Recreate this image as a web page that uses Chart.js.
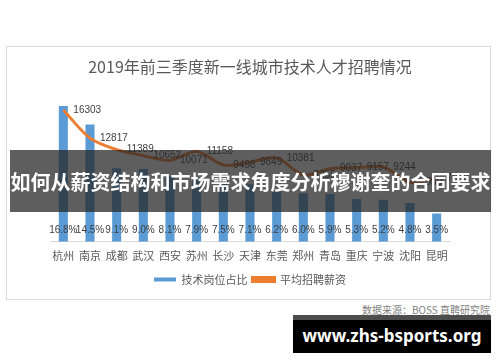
<!DOCTYPE html>
<html>
<head>
<meta charset="utf-8">
<script src="https://cdn.jsdelivr.net/npm/chart.js@4"></script>
<style>
  body { margin: 0; background: #fff; width: 500px; height: 362px; position: relative; overflow: hidden; }
  #frame { position: absolute; left: 6px; top: 46px; width: 485px; height: 254px; box-sizing: border-box; border: 1px solid #d9d9d9; }
  #wrap { position: absolute; left: 0; top: 0; width: 483px; height: 252px; }
  #banner { position: absolute; left: 10px; top: 150px; width: 481px; height: 62px; background: rgba(38,38,38,0.74);
    color: #fff; font: bold 20px "Noto Sans CJK SC", sans-serif; text-align: center; line-height: 64px; white-space: nowrap; }
  #source { position: absolute; right: 10px; top: 302px; font: 10px "Noto Sans CJK SC", sans-serif; color: #7f7f7f; }
  #mark { position: absolute; left: 293px; top: 315px; width: 198px; height: 38px; box-sizing: border-box; background: #000;
    border-top: 5px solid #4d4d4d; color: #fff; font: bold 17px "Noto Sans", sans-serif; text-align: center; line-height: 32px; }
</style>
</head>
<body>
<div id="frame"><div id="wrap"><canvas id="chart"></canvas></div></div>
<div id="banner">如何从薪资结构和市场需求角度分析穆谢奎的合同要求</div>
<div id="source">数据来源：BOSS 直聘研究院</div>
<div id="mark">www.zhs-bsports.org</div>
<script>
const cities = ["杭州", "南京", "成都", "武汉", "西安", "苏州", "长沙", "天津", "东莞", "郑州", "青岛", "重庆", "宁波", "沈阳", "昆明"];
const techShare = [16.8, 14.5, 9.1, 9.0, 8.1, 7.9, 7.5, 7.1, 6.2, 6.0, 5.9, 5.3, 5.2, 4.8, 3.5];
const avgSalary = [16303, 12817, 11389, 10652, 10071, 11158, 9498, 9849, 10381, 8255, 9037, 9157, 9244, 7350, 7859];

const valueLabels = {
  id: "valueLabels",
  afterDatasetsDraw(chart) {
    const ctx = chart.ctx;
    ctx.save();
    ctx.font = '10px "Liberation Sans", sans-serif';
    ctx.fillStyle = "#404040";
    ctx.textBaseline = "middle";
    ctx.textAlign = "center";
    chart.getDatasetMeta(0).data.forEach(function (bar, i) {
      ctx.fillText(techShare[i].toFixed(1) + "%", bar.x, bar.base - 12);
    });
    ctx.textAlign = "left";
    chart.getDatasetMeta(1).data.forEach(function (pt, i) {
      ctx.fillText(String(avgSalary[i]), pt.x + 10, pt.y);
    });
    ctx.restore();
  }
};

new Chart(document.getElementById("chart"), {
  data: {
    labels: cities,
    datasets: [
      {
        type: "bar",
        label: "技术岗位占比",
        data: techShare,
        backgroundColor: "#5b9bd5",
        borderWidth: 0,
        barPercentage: 0.68,
        categoryPercentage: 0.5,
        yAxisID: "y",
        order: 1
      },
      {
        type: "line",
        label: "平均招聘薪资",
        data: avgSalary,
        borderColor: "#ed7d31",
        backgroundColor: "#ed7d31",
        borderWidth: 3,
        pointRadius: 0,
        tension: 0.3,
        yAxisID: "y1",
        order: 0
      }
    ]
  },
  options: {
    responsive: true,
    maintainAspectRatio: false,
    animation: false,
    layout: { padding: { left: 43, right: 40, top: 0, bottom: 4 } },
    plugins: {
      title: {
        display: true,
        text: "2019年前三季度新一线城市技术人才招聘情况",
        color: "#595959",
        font: { size: 16, family: '"Noto Sans CJK SC", sans-serif', weight: "normal" },
        padding: { top: 10, bottom: 20 }
      },
      legend: {
        position: "bottom",
        labels: {
          boxWidth: 22,
          boxHeight: 4,
          color: "#595959",
          font: { size: 11, family: '"Noto Sans CJK SC", sans-serif' },
          padding: 5,
          sort: function (a, b) { return a.datasetIndex - b.datasetIndex; }
        }
      },
      tooltip: { enabled: false }
    },
    scales: {
      x: {
        grid: { display: false, drawTicks: false },
        border: { display: true, color: "#d9d9d9" },
        ticks: { color: "#595959", font: { size: 11, family: '"Noto Sans CJK SC", sans-serif' }, padding: 7,
          minRotation: 0, maxRotation: 0, autoSkip: false }
      },
      y: { display: false, min: 0, max: 18 },
      y1: { display: false, min: 0, max: 18000 }
    }
  },
  plugins: [valueLabels]
});
</script>
</body>
</html>
